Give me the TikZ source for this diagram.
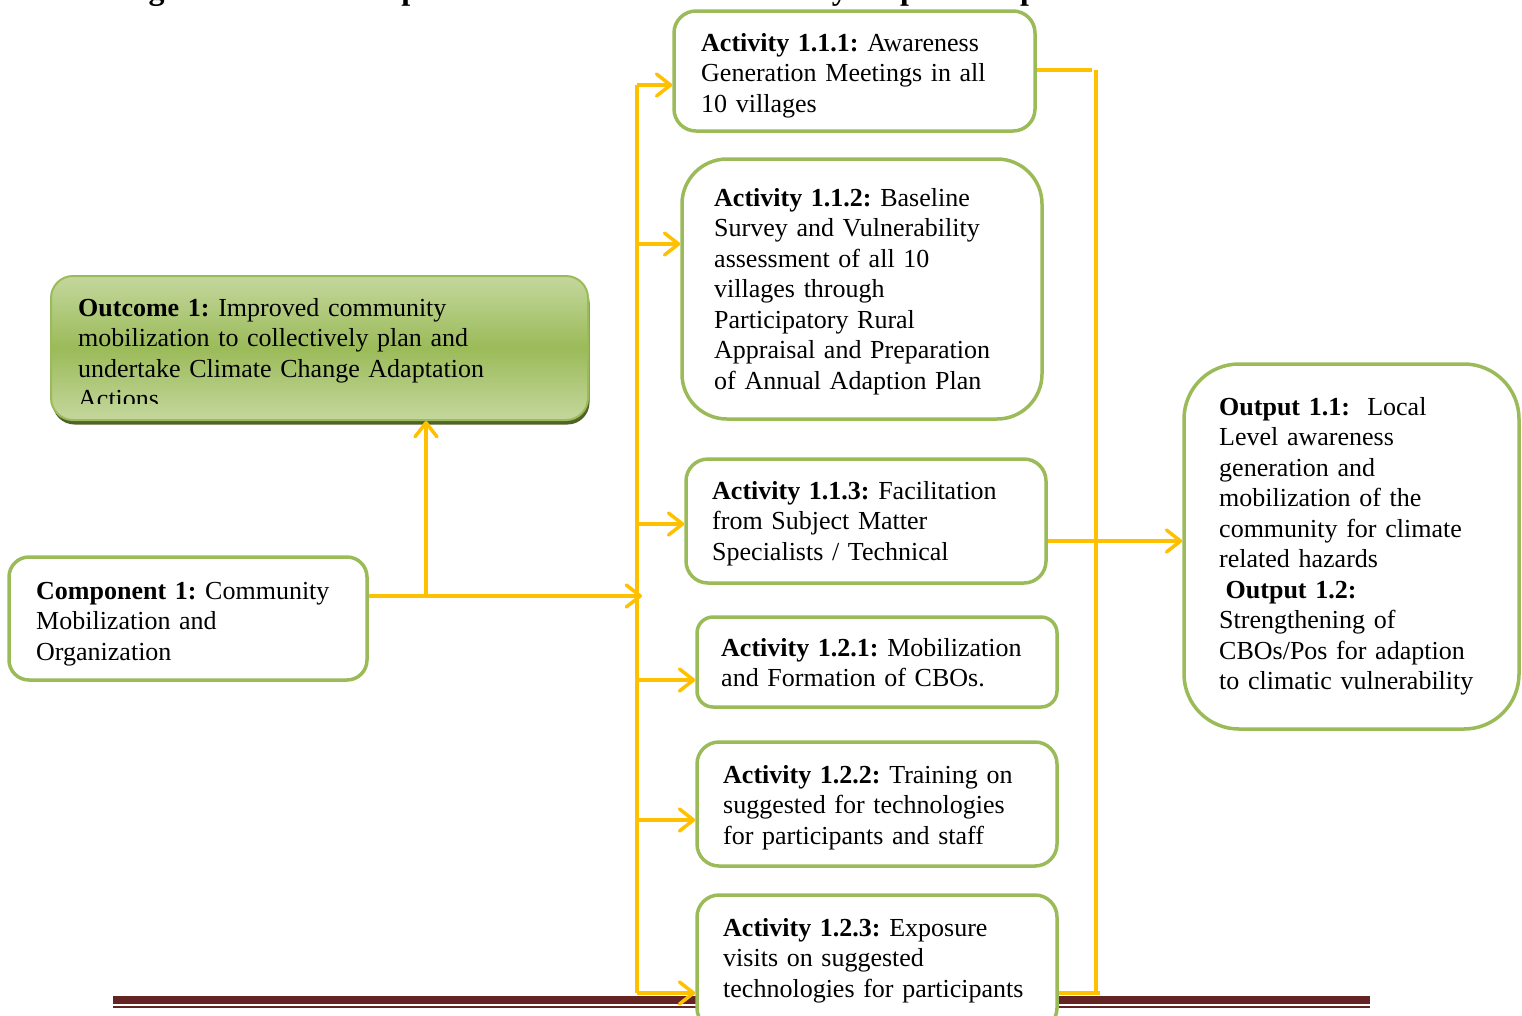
\documentclass[tikz,border=0pt]{standalone}
\usepackage{fontspec}
\setmainfont{Liberation Serif}
\usetikzlibrary{arrows.meta,positioning,calc,shadows}
\definecolor{boxgreen} {RGB}{155,187,89}
\definecolor{outlight} {RGB}{196,215,157}
\definecolor{outmid}   {RGB}{155,187,89}
\definecolor{outshade} {RGB}{79,98,40}
\definecolor{linkyellow}{RGB}{255,192,0}
\definecolor{rulered}  {RGB}{99,36,35}
\newcommand{\boxfont}{\fontsize{26}{30.5}\selectfont}
\frenchspacing
\tikzset{
  actbox/.style ={draw=boxgreen, line width=3.5pt, fill=white,
                  rounded corners=#1, inner sep=0pt},
  actbox/.default=22pt,
  outbox/.style ={draw=boxgreen, line width=2pt, rounded corners=22pt,
                  top color=outlight, bottom color=outlight, middle color=outmid,
                  drop shadow={shadow xshift=1.5pt, shadow yshift=-4.5pt,
                               fill=outshade, opacity=1},
                  inner sep=0pt},
  boxtext/.style={anchor=base west, inner sep=0pt, align=left,
                  text width=420pt, font=\boxfont},
  yline/.style  ={draw=linkyellow, line width=3.5pt},
  yarr/.style   ={yline, -{Straight Barb[length=14pt,width=22pt,round]}},
}
\begin{document}
\begin{tikzpicture}[x=1pt,y=-1pt]
  \useasboundingbox (0,0) rectangle (1522,1015);
  % title, cut off at the top of the page
  \begin{scope}
    \clip (0,0) rectangle (1522,30);
    \node[anchor=base west, inner sep=0pt, font=\fontsize{32}{36}\selectfont\bfseries] (title) at (120,-0.5)
      {Figure 3: Schematic presentation of Outcome activity output Component};
  \end{scope}
  % footer rule
  \fill[rulered] (113,996) rectangle (1370,1004);
  \fill[rulered] (113,1006) rectangle (1370,1008);
  %% boxes
  \node[outbox, minimum width=537pt, minimum height=144pt] (outcome) at (319.5,348) {};
  \begin{scope}
    \clip (55,280) rectangle (585,403);
    \node[boxtext] (outcometxt) at (78,316) {\textbf{Outcome 1:} Improved community\\
      mobilization to collectively plan and\\ undertake Climate Change Adaptation\\ Actions};
  \end{scope}
  \node[actbox=20pt, minimum width=358pt, minimum height=123pt] (comp) at (188,618.5) {};
  \node[boxtext] (comptxt) at (36,599) {\textbf{Component 1:} Community\\ Mobilization and\\ Organization};
  \node[actbox, minimum width=361pt, minimum height=120pt] (act111) at (854.5,71) {};
  \node[boxtext] (act111txt) at (701,51) {\textbf{Activity 1.1.1:} Awareness\\
    Generation Meetings in all\\ 10 villages};
  \node[actbox=45pt, minimum width=360pt, minimum height=260pt] (act112) at (862,289) {};
  \node[boxtext] (act112txt) at (714,206) {\textbf{Activity 1.1.2:} Baseline\\
    Survey and Vulnerability\\ assessment of all 10\\ villages through\\
    Participatory Rural\\ Appraisal and Preparation\\ of Annual Adaption Plan};
  \node[actbox, minimum width=360pt, minimum height=124pt] (act113) at (866,521) {};
  \node[boxtext] (act113txt) at (712,499) {\textbf{Activity 1.1.3:} Facilitation\\
    from Subject Matter\\ Specialists / Technical};
  \node[actbox=16pt, minimum width=360pt, minimum height=90pt] (act121) at (877,662) {};
  \node[boxtext] (act121txt) at (721,656) {\textbf{Activity 1.2.1:} Mobilization\\
    and Formation of CBOs.};
  \node[actbox, minimum width=360pt, minimum height=124pt] (act122) at (877,804) {};
  \node[boxtext] (act122txt) at (723,783) {\textbf{Activity 1.2.2:} Training on\\
    suggested for technologies\\ for participants and staff};
  \node[actbox, minimum width=360pt, minimum height=135pt] (act123) at (877,962.5) {};
  \node[boxtext] (act123txt) at (723,936) {\textbf{Activity 1.2.3:} Exposure\\
    visits on suggested\\ technologies for participants};
  \node[actbox=55pt, minimum width=335pt, minimum height=365pt] (output) at (1351.5,546.5) {};
  \node[boxtext] (outputtxt) at (1219,415) {\textbf{Output 1.1:}\ \ Local\\ Level awareness\\
    generation and\\ mobilization of the\\ community for climate\\ related hazards\\
    \hspace*{0.25em}\textbf{Output 1.2:}\\ Strengthening of\\ CBOs/Pos for adaption\\
    to climatic vulnerability};
  %% connectors
  \coordinate (hub) at (642,596);
  \coordinate (jn)  at (426,596);
  \draw[yarr] (comp.east |- hub) -- (hub);
  \draw[yarr] (jn) -- (jn |- outcome.south);
  % left bus
  \coordinate (ltop) at (637,85);
  \coordinate (lbot) at (637,993);
  \draw[yline] (ltop) -- (lbot);
  \foreach \nd/\yy in {act111/85, act112/244, act113/524, act121/680, act122/820, act123/993}{
    \coordinate (b-\nd) at (637,\yy);
    \draw[yarr] (b-\nd) -- (b-\nd -| \nd.west);
  }
  % right bus
  \coordinate (rtop) at (1096,70);
  \coordinate (rbot) at (1096,993);
  \coordinate (rmid) at (1096,541);
  \draw[yline] (rtop) -- (rbot);
  \draw[yline] (act111.east |- rtop) -- ([xshift=-4pt]rtop);
  \draw[yline] (act123.east |- rbot) -- ([xshift=4pt]rbot);
  \draw[yarr] (act113.east |- rmid) -- (rmid -| output.west);
\end{tikzpicture}
\end{document}
